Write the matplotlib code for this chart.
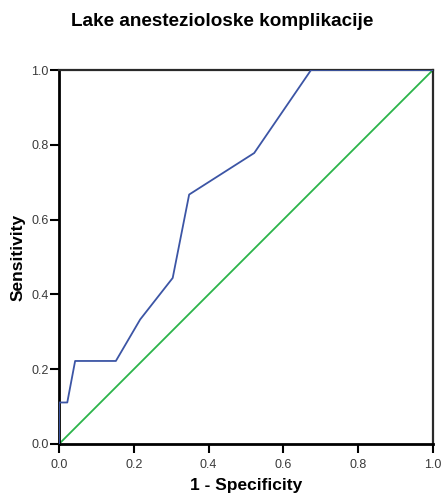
import matplotlib
matplotlib.use("Agg")
import matplotlib.pyplot as plt

title = "Lake anestezioloske komplikacije"
fpr = [0.0, 0.0, 0.022, 0.043, 0.152, 0.217, 0.304, 0.348, 0.522, 0.674, 1.0]
tpr = [0.0, 0.111, 0.111, 0.222, 0.222, 0.333, 0.444, 0.667, 0.778, 1.0, 1.0]
ref_x = [0.0, 1.0]
ref_y = [0.0, 1.0]
ticks = [0.0, 0.2, 0.4, 0.6, 0.8, 1.0]
tick_labels = ["0.0", "0.2", "0.4", "0.6", "0.8", "1.0"]

plt.rcParams['font.family'] = ['Liberation Sans', 'DejaVu Sans']

fig = plt.figure(figsize=(4.44, 4.93), dpi=100)
ax = fig.add_axes([0.133, 0.0994, 0.842, 0.7586])

ax.plot(ref_x, ref_y, color='#2bb44a', lw=1.3, zorder=2)
ax.plot(fpr, tpr, color='#3c55a5', lw=1.3, zorder=3)

ax.set_xlim(0, 1)
ax.set_ylim(0, 1)
ax.set_xticks(ticks)
ax.set_xticklabels(tick_labels)
ax.set_yticks(ticks)
ax.set_yticklabels(tick_labels)
ax.tick_params(axis='both', direction='out', length=6.5, width=1.5, color='black',
               labelsize=9, labelcolor='#3a3a3a')
ax.tick_params(axis='x', pad=4.5)
ax.tick_params(axis='y', pad=1)
for side in ['left', 'bottom']:
    ax.spines[side].set_linewidth(2)
    ax.spines[side].set_color('black')
for side in ['top', 'right']:
    ax.spines[side].set_linewidth(1.6)
    ax.spines[side].set_color('#2a2a2a')

ax.set_xlabel("1 - Specificity", fontsize=12.5, fontweight='bold', labelpad=4.5)
ax.set_ylabel("Sensitivity", fontsize=12.5, fontweight='bold', labelpad=4)
fig.text(0.5, 0.957, title, ha='center', va='center', fontsize=13.6, fontweight='bold')

fig.savefig("out.png", dpi=100)
